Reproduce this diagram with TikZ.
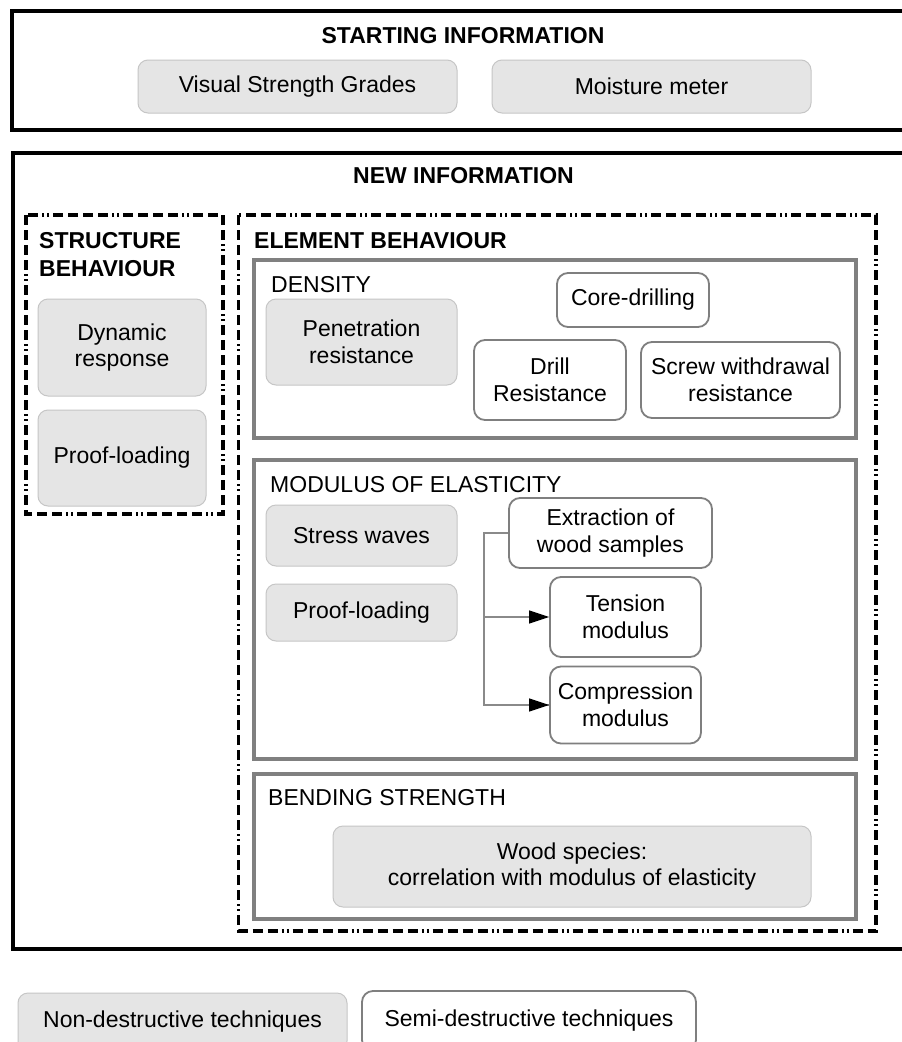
\documentclass[tikz,border=0pt]{standalone}
\usepackage{fontspec}
\setmainfont{Liberation Sans}
\usetikzlibrary{arrows.meta}
\definecolor{gfill}{HTML}{E5E5E5}
\definecolor{gline}{HTML}{C6C6C6}
\definecolor{wline}{HTML}{7F7F7F}
\definecolor{secline}{HTML}{808080}
\definecolor{connline}{HTML}{8A8A8A}
\tikzset{
  every node/.style={font=\fontsize{23}{26.5}\selectfont, text=black},
  gbox/.style={draw=gline, fill=gfill, line width=1pt, rounded corners=10pt, inner sep=0pt, align=center},
  wbox/.style={draw=wline, fill=white, line width=1.8pt, rounded corners=11pt, inner sep=0pt, align=center},
  heavybox/.style={draw=black, line width=4.5pt},
  dashbox/.style={draw=black, line width=3.5pt, dash pattern=on 10pt off 5pt on 10pt off 5pt on 10pt off 5pt on 10pt off 4pt on 2pt off 3pt on 2pt off 4pt},
  secbox/.style={draw=secline, line width=4pt},
  title/.style={font=\bfseries\fontsize{23}{26.5}\selectfont, inner sep=0pt},
  sectitle/.style={inner sep=0pt, anchor=base west},
  conn/.style={draw=connline, line width=1.2pt},
  arr/.style={conn, -{Triangle[length=20pt,width=13pt,color=black]}},
}
\begin{document}
\begin{tikzpicture}[x=1pt,y=-1pt]
\useasboundingbox (0,0) rectangle (902,1042);
\clip (0,0) rectangle (902,1042);
\fill[white] (0,0) rectangle (902,1042);

% top section
\draw[heavybox] (12,11) rectangle (930,130);
\node[title, anchor=base] (tstart) at (463,43) {STARTING INFORMATION};
\node[gbox, minimum width=319pt, minimum height=53pt] (vsg) at (297.5,86.5) {Visual Strength Grades};
\node[gbox, minimum width=319pt, minimum height=53pt] (mm) at (651.5,86.5) {Moisture meter};

% new information
\draw[heavybox] (13,153) rectangle (930,949);
\node[title, anchor=base] (tnew) at (463.5,183) {NEW INFORMATION};

% structure behaviour
\draw[dashbox] (26,215) rectangle (223,514);
\node[title, anchor=base west] (sb1) at (39,248) {STRUCTURE};
\node[title, anchor=base west] (sb2) at (39,276) {BEHAVIOUR};
\node[gbox, minimum width=168pt, minimum height=97pt] (dyn) at (122,347.5) {Dynamic\\response};
\node[gbox, minimum width=168pt, minimum height=96pt] (pl1) at (122,458) {Proof-loading};

% element behaviour
\draw[dashbox] (238.5,215) rectangle (876,931);
\node[title, anchor=base west] (eb) at (254,248) {ELEMENT BEHAVIOUR};

% density
\draw[secbox] (254,260) rectangle (856,438);
\node[sectitle] (tden) at (271,292) {DENSITY};
\node[gbox, minimum width=191pt, minimum height=86pt] (pen) at (361.5,342) {Penetration\\resistance};
\node[wbox, minimum width=152pt, minimum height=54pt] (core) at (633,300) {Core-drilling};
\node[wbox, minimum width=152pt, minimum height=80pt] (drill) at (550,380) {Drill\\Resistance};
\node[wbox, minimum width=199pt, minimum height=76pt] (screw) at (740.5,380) {Screw withdrawal\\resistance};

% modulus of elasticity
\draw[secbox] (254,460) rectangle (856,759);
\node[sectitle] (tmoe) at (270,492) {MODULUS OF ELASTICITY};
\node[gbox, minimum width=191pt, minimum height=61pt] (sw) at (361.5,535.5) {Stress waves};
\node[gbox, minimum width=191pt, minimum height=57pt] (pl2) at (361.5,612.5) {Proof-loading};
\node[wbox, minimum width=203pt, minimum height=70pt] (ext) at (610.5,533) {Extraction of\\wood samples};
\node[wbox, minimum width=151pt, minimum height=80pt] (ten) at (625.5,617) {Tension\\modulus};
\node[wbox, minimum width=151pt, minimum height=77pt] (comp) at (625.5,705) {Compression\\modulus};
\coordinate (jt) at (484,533);
\draw[conn] (ext.west) -- (jt) |- (comp.west);
\draw[arr] (jt |- ten.west) -- (ten.west);
\draw[arr] (jt |- comp.west) -- (comp.west);

% bending strength
\draw[secbox] (254,774) rectangle (856,919);
\node[sectitle] (tbend) at (268,805) {BENDING STRENGTH};
\node[gbox, minimum width=478pt, minimum height=81pt] (wood) at (572,866.5) {Wood species:\\correlation with modulus of elasticity};

% legend
\node[gbox, minimum width=329pt, minimum height=58pt] (nd) at (182.5,1022) {Non-destructive techniques};
\node[wbox, minimum width=334pt, minimum height=60pt] (sd) at (529,1021) {Semi-destructive techniques};
\end{tikzpicture}
\end{document}
